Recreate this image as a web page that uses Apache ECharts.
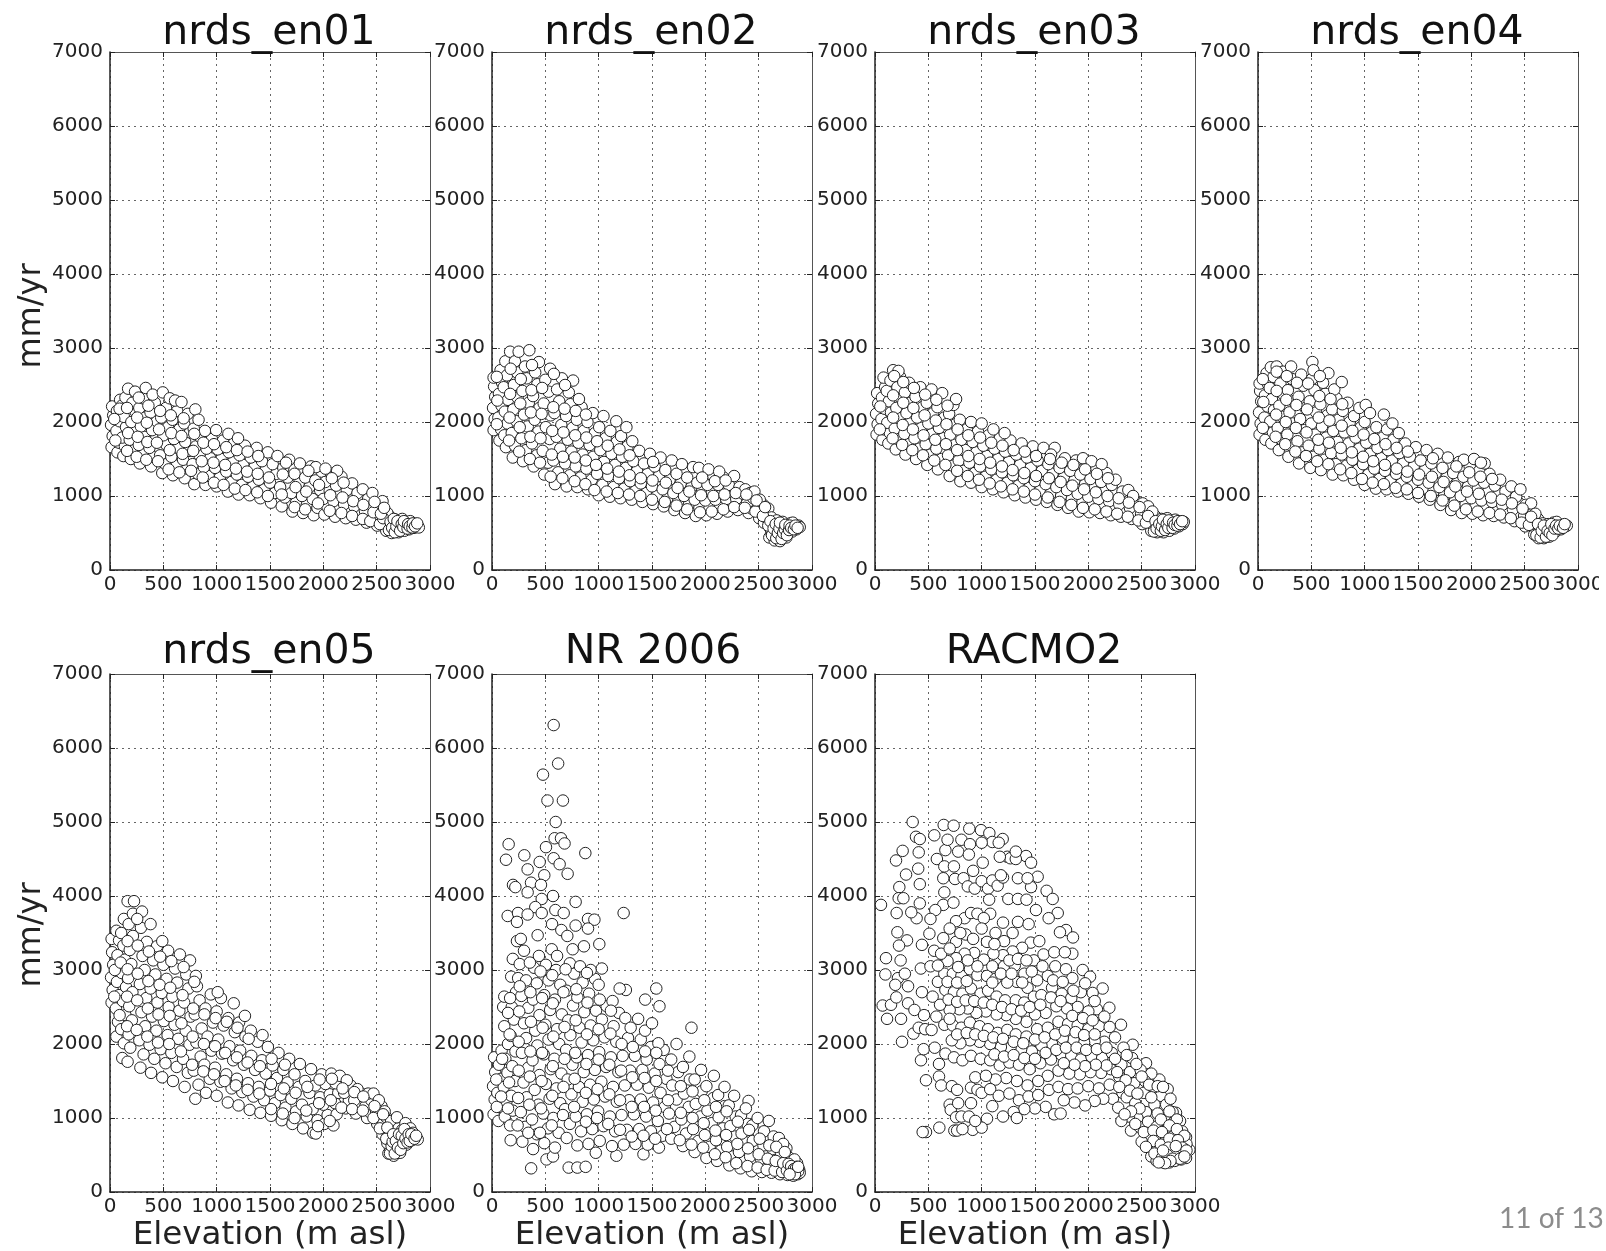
<!DOCTYPE html>
<html>
<head>
<meta charset="utf-8">
<title>nrds</title>
<script src="https://cdn.jsdelivr.net/npm/echarts@6/dist/echarts.min.js"></script>
<style>
html,body{margin:0;padding:0;background:#fff;}
#main{width:1606px;height:1251px;filter:blur(0.5px);}
</style>
</head>
<body>
<div id="main"></div>
<script>
var panelTitles=["nrds_en01","nrds_en02","nrds_en03","nrds_en04","nrds_en05","NR 2006","RACMO2"];
var xTicks=[0,500,1000,1500,2000,2500,3000];
var yTicks=[0,1000,2000,3000,4000,5000,6000,7000];
//点 [海拔,mm/yr]
var en01=[[15,1660],[25,1810],[10,1960],[30,2090],[20,2210],[70,1590],[85,1720],[60,1880],[90,2010],[65,2150],[95,2300],[125,1540],[140,1670],[115,1790],[150,1930],[130,2070],[110,2220],[145,2330],[170,2450],[195,1500],[215,1620],[185,1760],[230,1880],[200,2000],[240,2140],[210,2260],[235,2410],[280,1440],[310,1570],[270,1690],[320,1800],[290,1940],[330,2060],[275,2190],[310,2320],[335,2460],[385,1400],[410,1530],[370,1650],[430,1770],[395,1890],[440,2010],[380,2130],[420,2260],[400,2370],[490,1310],[520,1430],[470,1550],[530,1690],[500,1820],[545,1930],[480,2060],[525,2190],[495,2400],[560,2320],[590,1280],[625,1410],[575,1530],[640,1650],[600,1770],[650,1900],[585,2030],[630,2150],[610,2290],[670,2270],[700,1240],[725,1370],[685,1490],[740,1610],[705,1730],[750,1860],[695,1980],[730,2110],[800,2170],[790,1160],[825,1300],[775,1430],[840,1550],[805,1670],[850,1790],[785,1910],[830,2030],[895,1150],[925,1270],[880,1390],[940,1510],[905,1640],[955,1770],[890,1880],[1000,1130],[1030,1250],[985,1380],[1045,1500],[1010,1630],[1060,1750],[995,1890],[1105,1060],[1140,1190],[1090,1330],[1155,1460],[1115,1590],[1165,1720],[1110,1840],[1205,1020],[1235,1150],[1190,1290],[1250,1420],[1215,1550],[1265,1680],[1200,1780],[1310,1010],[1340,1130],[1295,1260],[1355,1390],[1320,1520],[1375,1650],[1410,970],[1445,1090],[1395,1220],[1460,1350],[1425,1470],[1480,1590],[1510,910],[1545,1040],[1500,1180],[1560,1300],[1525,1430],[1570,1540],[1610,860],[1640,980],[1595,1120],[1665,1250],[1625,1380],[1680,1490],[1710,790],[1745,910],[1700,1040],[1770,1170],[1730,1300],[1780,1440],[1810,770],[1845,880],[1800,1000],[1870,1120],[1830,1250],[1885,1400],[1910,740],[1945,840],[1900,960],[1970,1080],[1925,1210],[1985,1330],[1930,1390],[2010,750],[2040,850],[2000,960],[2060,1070],[2020,1190],[2075,1300],[2020,1370],[2110,720],[2140,820],[2095,930],[2160,1030],[2120,1140],[2170,1260],[2130,1340],[2210,700],[2240,790],[2195,890],[2255,990],[2220,1080],[2270,1170],[2305,680],[2335,770],[2290,860],[2355,950],[2320,1040],[2370,1090],[2405,640],[2435,720],[2390,800],[2450,880],[2420,960],[2460,1040],[2505,600],[2530,670],[2495,740],[2545,810],[2510,880],[2555,930],[2590,530],[2610,600],[2580,660],[2625,720],[2600,770],[2640,500],[2665,560],[2650,620],[2680,680],[2705,510],[2725,570],[2700,630],[2740,690],[2760,530],[2780,590],[2770,650],[2805,550],[2825,610],[2815,660],[2850,570],[2870,620],[2885,600],[2895,575]];
var en01Fill=[[50,1750],[40,2040],[90,2180],[160,1610],[170,1850],[160,2190],[250,1530],[260,1800],[255,2060],[270,2330],[340,1490],[350,1730],[345,1990],[360,2220],[450,1470],[440,1720],[460,1900],[470,2150],[550,1360],[560,1620],[575,1850],[570,2090],[650,1320],[680,1570],[670,1810],[690,2050],[760,1340],[780,1610],[790,1840],[870,1250],[860,1470],[875,1720],[975,1180],[970,1450],[975,1700],[1065,1150],[1080,1420],[1090,1660],[1170,1100],[1180,1370],[1190,1620],[1270,1080],[1285,1330],[1290,1600],[1380,1050],[1385,1300],[1390,1540],[1480,1000],[1490,1250],[1610,1020],[1620,1290],[1650,1450],[1730,850],[1740,1120],[1830,820],[1840,1060],[1860,1340],[1950,900],[1960,1150],[2060,800],[2065,1010],[2080,1240],[2170,770],[2180,980],[2190,1180],[2270,730],[2280,930],[2370,690],[2375,880],[2440,660],[2470,780],[2480,920],[2530,620],[2560,700],[2540,760],[2570,840],[2615,540],[2630,650],[2645,570],[2660,690],[2670,510],[2685,590],[2695,660],[2720,530],[2735,620],[2750,580],[2755,660],[2790,560],[2795,620],[2810,590],[2835,575],[2840,630],[2860,590],[2880,630]];
var en02=[[15,1890],[25,2040],[10,2190],[30,2340],[20,2480],[15,2600],[70,1750],[85,1900],[60,2060],[90,2220],[65,2380],[95,2530],[80,2700],[130,1660],[115,1820],[145,1980],[120,2140],[150,2300],[110,2470],[140,2630],[125,2820],[170,2950],[195,1520],[215,1680],[185,1850],[230,2010],[200,2170],[240,2330],[205,2500],[235,2670],[215,2820],[250,2950],[290,1470],[320,1620],[275,1780],[335,1940],[300,2100],[345,2260],[285,2420],[325,2590],[310,2750],[350,2970],[390,1400],[420,1550],[375,1710],[435,1870],[400,2030],[445,2190],[385,2350],[425,2510],[405,2670],[440,2810],[490,1290],[525,1450],[475,1610],[540,1770],[505,1930],[550,2090],[485,2250],[530,2410],[500,2570],[545,2720],[590,1160],[620,1320],[575,1480],[640,1640],[605,1800],[650,1960],[585,2120],[630,2280],[610,2440],[655,2590],[700,1130],[730,1280],[685,1440],[745,1600],[710,1760],[755,1920],[695,2080],[735,2240],[720,2400],[760,2560],[800,1120],[830,1250],[785,1400],[850,1560],[810,1720],[860,1880],[795,2030],[840,2200],[815,2310],[900,1090],[935,1220],[885,1370],[950,1530],[915,1690],[965,1850],[895,2000],[945,2120],[1000,1010],[1035,1150],[985,1300],[1050,1460],[1015,1620],[1065,1780],[1005,1930],[1045,2080],[1105,990],[1140,1120],[1090,1270],[1155,1420],[1120,1570],[1170,1730],[1110,1880],[1165,2010],[1205,970],[1240,1100],[1190,1240],[1255,1380],[1220,1530],[1270,1670],[1210,1810],[1260,1930],[1310,950],[1345,1070],[1295,1200],[1360,1340],[1325,1470],[1380,1610],[1315,1740],[1410,920],[1445,1040],[1395,1170],[1460,1300],[1425,1440],[1480,1570],[1510,890],[1545,1000],[1500,1130],[1565,1270],[1525,1400],[1580,1520],[1610,860],[1645,970],[1600,1090],[1665,1220],[1625,1350],[1685,1480],[1710,810],[1745,920],[1700,1040],[1770,1170],[1730,1300],[1780,1430],[1810,770],[1845,880],[1800,1000],[1870,1120],[1830,1250],[1885,1390],[1910,730],[1945,840],[1900,950],[1970,1060],[1925,1180],[1985,1300],[1940,1380],[2010,740],[2040,840],[2000,940],[2060,1040],[2020,1150],[2075,1260],[2030,1360],[2110,760],[2140,850],[2095,950],[2160,1040],[2120,1150],[2170,1250],[2130,1330],[2210,790],[2240,870],[2195,960],[2255,1050],[2220,1150],[2270,1270],[2305,810],[2335,880],[2290,960],[2355,1030],[2320,1120],[2375,1090],[2405,770],[2435,830],[2390,900],[2450,970],[2420,1040],[2460,1060],[2505,700],[2525,770],[2490,830],[2545,880],[2510,950],[2550,640],[2575,700],[2560,770],[2590,830],[2600,440],[2620,500],[2605,570],[2635,640],[2620,710],[2650,400],[2670,460],[2655,530],[2685,600],[2670,670],[2700,390],[2720,450],[2710,520],[2735,590],[2725,650],[2760,440],[2780,500],[2770,570],[2795,630],[2815,520],[2835,580],[2820,640],[2855,550],[2875,600],[2885,580]];
var en02Fill=[[45,1970],[50,2290],[45,2610],[160,1750],[165,2060],[170,2380],[175,2720],[255,1600],[260,1930],[265,2250],[270,2580],[355,1500],[360,1800],[365,2130],[370,2430],[375,2770],[450,1450],[455,1780],[465,2110],[470,2460],[550,1260],[560,1560],[565,1880],[575,2200],[580,2650],[660,1240],[665,1530],[670,1860],[680,2180],[685,2500],[775,1200],[775,1520],[780,1820],[785,2150],[875,1160],[880,1480],[885,1790],[880,2100],[960,1080],[975,1420],[985,1740],[1075,1060],[1080,1370],[1085,1680],[1180,1040],[1190,1330],[1195,1630],[1285,1020],[1290,1280],[1290,1550],[1390,1000],[1395,1240],[1500,950],[1505,1210],[1510,1460],[1620,920],[1630,1180],[1730,870],[1740,1110],[1830,820],[1850,1060],[1950,780],[1960,1010],[1970,1250],[2060,790],[2075,1000],[2090,1200],[2170,820],[2180,1020],[2190,1210],[2270,850],[2285,1040],[2370,840],[2385,1020],[2470,790],[2480,940],[2540,730],[2560,850],[2590,600],[2610,660],[2625,470],[2640,560],[2660,620],[2665,430],[2680,500],[2695,560],[2700,640],[2715,420],[2730,500],[2745,550],[2750,610],[2765,470],[2785,540],[2790,600],[2805,570],[2830,550],[2845,600],[2865,570]];
var en03=[[15,1830],[25,1970],[10,2110],[30,2250],[20,2390],[70,1760],[85,1900],[60,2040],[90,2180],[65,2330],[95,2470],[80,2600],[125,1710],[140,1850],[115,1990],[150,2130],[130,2280],[110,2420],[145,2560],[170,2700],[195,1630],[215,1770],[185,1910],[230,2050],[200,2190],[240,2330],[210,2470],[235,2610],[220,2690],[285,1560],[315,1700],[275,1840],[325,1980],[295,2120],[335,2260],[280,2400],[320,2530],[385,1500],[415,1640],[370,1780],[435,1920],[395,2060],[445,2200],[380,2340],[425,2470],[490,1420],[520,1560],[475,1700],[535,1840],[500,1980],[545,2120],[485,2260],[530,2440],[590,1360],[625,1500],[575,1640],[640,1780],[600,1920],[650,2060],[585,2200],[630,2390],[700,1270],[730,1410],[685,1550],[745,1690],[705,1830],[755,1970],[695,2110],[735,2230],[760,2310],[800,1200],[830,1340],[785,1480],[850,1620],[810,1760],[860,1900],[795,2030],[900,1180],[935,1310],[885,1450],[950,1590],[915,1730],[965,1870],[900,2000],[1000,1120],[1035,1260],[985,1400],[1050,1540],[1015,1680],[1065,1820],[1000,1980],[1105,1090],[1140,1220],[1090,1360],[1155,1500],[1120,1640],[1170,1780],[1110,1900],[1205,1050],[1240,1180],[1190,1320],[1255,1460],[1220,1600],[1270,1750],[1215,1850],[1310,1010],[1345,1140],[1295,1280],[1360,1420],[1325,1560],[1375,1710],[1410,980],[1445,1110],[1395,1240],[1460,1380],[1425,1520],[1480,1670],[1510,950],[1545,1070],[1500,1200],[1565,1340],[1525,1480],[1580,1650],[1610,920],[1645,1030],[1600,1160],[1665,1300],[1625,1430],[1685,1650],[1650,1560],[1710,880],[1745,1000],[1700,1120],[1770,1250],[1730,1380],[1780,1510],[1810,840],[1845,960],[1800,1080],[1870,1210],[1830,1340],[1885,1480],[1910,790],[1945,910],[1900,1030],[1970,1160],[1925,1290],[1985,1430],[1950,1510],[2010,780],[2040,880],[2000,990],[2060,1110],[2020,1230],[2075,1370],[2030,1470],[2110,770],[2140,860],[2095,960],[2160,1070],[2120,1190],[2170,1310],[2125,1430],[2210,740],[2240,830],[2195,930],[2255,1040],[2220,1150],[2255,1220],[2305,720],[2335,800],[2290,890],[2355,970],[2320,1060],[2375,1080],[2405,690],[2435,770],[2390,840],[2450,920],[2420,1000],[2505,620],[2530,690],[2495,760],[2545,830],[2510,900],[2560,860],[2590,530],[2610,600],[2580,670],[2625,730],[2600,790],[2645,510],[2665,570],[2650,630],[2685,690],[2705,510],[2725,570],[2700,640],[2740,700],[2760,530],[2780,600],[2770,660],[2805,560],[2825,620],[2815,680],[2850,590],[2870,640],[2885,620],[2895,650]];
var en03Fill=[[45,1900],[50,2210],[165,1780],[170,2060],[170,2360],[180,2620],[255,1690],[260,1960],[265,2260],[265,2540],[350,1620],[355,1900],[360,2190],[365,2460],[450,1550],[455,1820],[465,2090],[470,2370],[555,1480],[565,1760],[570,2020],[575,2300],[660,1420],[665,1700],[670,1970],[680,2220],[770,1340],[770,1620],[775,1900],[870,1270],[875,1540],[875,1820],[975,1220],[980,1500],[985,1790],[1075,1170],[1080,1450],[1090,1720],[1180,1130],[1190,1400],[1195,1680],[1290,1090],[1290,1350],[1300,1620],[1395,1060],[1400,1310],[1405,1600],[1500,1020],[1510,1270],[1510,1540],[1620,980],[1630,1240],[1640,1500],[1730,920],[1740,1190],[1750,1450],[1840,880],[1850,1140],[1860,1420],[1950,840],[1960,1090],[1970,1360],[2060,820],[2070,1050],[2080,1300],[2170,790],[2180,1000],[2185,1240],[2270,760],[2285,970],[2370,720],[2380,910],[2470,670],[2480,850],[2540,640],[2560,730],[2615,520],[2630,660],[2640,560],[2665,620],[2680,530],[2690,590],[2700,680],[2720,540],[2735,620],[2750,570],[2755,670],[2790,570],[2795,640],[2810,610],[2835,600],[2840,660],[2860,620],[2880,660]];
var en04=[[15,1830],[25,1980],[10,2130],[30,2280],[20,2420],[15,2520],[70,1760],[85,1910],[60,2060],[90,2210],[65,2360],[95,2510],[80,2660],[125,1710],[140,1860],[115,2010],[150,2160],[130,2310],[110,2460],[145,2610],[120,2740],[175,2750],[195,1620],[215,1770],[185,1920],[230,2070],[200,2220],[240,2370],[210,2520],[235,2680],[285,1530],[315,1680],[275,1830],[325,1980],[295,2130],[335,2280],[280,2430],[320,2580],[310,2750],[385,1440],[415,1590],[370,1740],[435,1890],[395,2040],[445,2190],[380,2340],[425,2490],[405,2640],[490,1380],[520,1530],[475,1680],[535,1830],[500,1980],[545,2130],[485,2280],[530,2430],[505,2580],[510,2810],[520,2700],[590,1350],[625,1490],[575,1640],[640,1790],[600,1940],[650,2090],[585,2240],[630,2380],[610,2530],[660,2660],[700,1290],[730,1430],[685,1580],[745,1730],[705,1880],[755,2030],[695,2170],[735,2320],[715,2440],[785,2540],[800,1280],[830,1410],[785,1560],[850,1710],[810,1860],[860,2000],[795,2150],[840,2260],[900,1220],[935,1350],[885,1490],[950,1640],[915,1790],[965,1930],[900,2080],[950,2190],[1000,1150],[1035,1290],[985,1430],[1050,1570],[1015,1720],[1065,1860],[1000,2000],[1010,2230],[1050,2120],[1105,1100],[1140,1230],[1090,1370],[1155,1510],[1120,1650],[1170,1790],[1110,1930],[1180,2100],[1205,1090],[1240,1210],[1190,1340],[1255,1480],[1220,1620],[1270,1760],[1210,1900],[1260,1980],[1310,1060],[1345,1170],[1295,1300],[1360,1440],[1325,1580],[1380,1710],[1320,1850],[1410,1030],[1445,1140],[1395,1260],[1460,1400],[1425,1530],[1480,1660],[1510,990],[1545,1100],[1500,1220],[1565,1350],[1525,1480],[1580,1620],[1610,950],[1645,1060],[1600,1180],[1665,1310],[1625,1440],[1685,1570],[1710,880],[1745,1000],[1700,1120],[1770,1250],[1730,1380],[1780,1520],[1810,810],[1845,930],[1800,1050],[1870,1180],[1830,1310],[1885,1460],[1910,770],[1945,880],[1900,1000],[1970,1130],[1925,1260],[1985,1400],[1930,1490],[2010,760],[2040,860],[2000,970],[2060,1090],[2020,1210],[2075,1340],[2025,1500],[2110,740],[2140,840],[2095,940],[2160,1060],[2120,1180],[2170,1300],[2125,1440],[2210,730],[2240,820],[2195,920],[2255,1030],[2220,1140],[2270,1220],[2305,710],[2335,790],[2290,880],[2355,970],[2320,1060],[2375,1130],[2405,660],[2435,740],[2390,820],[2450,900],[2420,990],[2460,1090],[2505,590],[2530,660],[2495,730],[2545,800],[2510,880],[2560,900],[2590,480],[2610,550],[2580,620],[2625,690],[2600,760],[2630,430],[2650,490],[2640,560],[2670,630],[2680,430],[2700,490],[2690,560],[2720,620],[2730,450],[2750,510],[2740,580],[2770,640],[2790,520],[2810,590],[2800,650],[2840,550],[2860,610],[2880,590],[2895,600]];
var en04Fill=[[45,1920],[50,2270],[45,2580],[165,1800],[170,2100],[175,2420],[175,2680],[255,1700],[260,2000],[265,2300],[270,2620],[350,1600],[355,1920],[360,2230],[365,2530],[450,1540],[455,1860],[460,2170],[470,2520],[555,1470],[565,1760],[570,2060],[575,2350],[580,2620],[660,1430],[665,1720],[670,2020],[680,2310],[770,1360],[775,1650],[785,1950],[790,2240],[875,1310],[880,1590],[885,1880],[975,1230],[985,1530],[990,1830],[1075,1180],[1080,1470],[1090,1770],[1180,1160],[1190,1420],[1195,1700],[1290,1110],[1300,1370],[1300,1650],[1395,1090],[1400,1330],[1405,1600],[1500,1040],[1510,1290],[1620,1000],[1630,1260],[1640,1510],[1730,940],[1740,1190],[1840,870],[1850,1130],[1860,1400],[1950,820],[1960,1060],[1980,1320],[2060,790],[2070,1030],[2085,1260],[2090,1450],[2170,770],[2185,980],[2195,1230],[2270,750],[2285,950],[2370,700],[2380,900],[2470,640],[2480,830],[2540,610],[2560,720],[2610,470],[2625,620],[2650,440],[2660,530],[2680,600],[2700,450],[2715,530],[2735,500],[2750,620],[2760,470],[2780,560],[2795,600],[2815,560],[2830,600],[2860,570],[2875,620]];
var en05=[[15,2560],[25,2730],[10,2900],[30,3070],[20,3240],[15,3420],[60,2100],[75,2300],[55,2480],[85,2660],[65,2840],[90,3020],[70,3200],[85,3400],[60,3530],[115,1810],[130,2010],[105,2200],[145,2390],[120,2580],[150,2770],[110,2960],[140,3140],[125,3330],[105,3500],[130,3690],[165,1760],[190,1950],[175,2130],[205,2320],[180,2510],[210,2700],[170,2890],[200,3080],[185,3270],[215,3460],[175,3620],[165,3930],[225,3930],[215,3760],[285,1680],[315,1860],[275,2050],[330,2240],[295,2430],[340,2620],[280,2810],[325,3000],[305,3190],[345,3380],[290,3570],[300,3790],[385,1610],[415,1800],[370,1990],[435,2180],[395,2370],[445,2560],[380,2750],[425,2940],[405,3130],[440,3320],[380,3620],[490,1550],[520,1740],[475,1930],[540,2120],[505,2310],[550,2500],[485,2690],[530,2880],[500,3070],[545,3260],[490,3390],[590,1500],[625,1690],[575,1880],[640,2070],[605,2260],[650,2450],[585,2640],[630,2830],[610,3020],[655,3210],[700,1420],[730,1610],[685,1800],[745,1990],[710,2180],[755,2370],[695,2560],[735,2750],[715,2940],[750,3130],[800,1260],[830,1450],[785,1640],[850,1830],[810,2020],[860,2210],[795,2400],[840,2590],[815,2780],[805,2920],[900,1340],[935,1530],[885,1720],[950,1910],[915,2100],[965,2290],[895,2480],[945,2670],[1000,1300],[1035,1490],[985,1680],[1050,1870],[1015,2060],[1065,2250],[1000,2440],[1040,2620],[1010,2700],[1105,1210],[1140,1400],[1090,1590],[1155,1780],[1120,1970],[1170,2160],[1110,2350],[1160,2550],[1205,1170],[1240,1350],[1190,1530],[1255,1720],[1220,1910],[1270,2100],[1210,2290],[1265,2380],[1310,1110],[1345,1290],[1295,1470],[1360,1650],[1325,1840],[1385,2030],[1320,2180],[1410,1070],[1445,1240],[1395,1420],[1460,1600],[1425,1780],[1480,1960],[1430,2120],[1510,1030],[1545,1200],[1500,1370],[1565,1540],[1525,1710],[1580,1880],[1610,970],[1645,1140],[1600,1310],[1665,1480],[1625,1650],[1680,1800],[1710,920],[1745,1090],[1700,1260],[1770,1420],[1730,1590],[1780,1730],[1810,860],[1845,1020],[1800,1180],[1870,1340],[1830,1500],[1885,1660],[1905,800],[1945,970],[1900,1120],[1970,1280],[1925,1440],[1985,1590],[1930,790],[2010,920],[2040,1040],[2000,1180],[2060,1320],[2020,1460],[2075,1600],[2095,900],[2125,1050],[2110,1200],[2140,1340],[2115,1470],[2155,1570],[2210,1130],[2240,1240],[2195,1340],[2255,1440],[2220,1510],[2305,1060],[2335,1150],[2290,1240],[2355,1330],[2320,1390],[2410,1000],[2435,1080],[2395,1160],[2450,1240],[2420,1330],[2470,1330],[2505,920],[2530,1000],[2495,1080],[2545,1160],[2520,1240],[2555,780],[2575,850],[2560,930],[2590,1010],[2575,1090],[2610,520],[2625,590],[2600,660],[2640,730],[2620,800],[2650,880],[2635,960],[2660,490],[2680,560],[2665,630],[2695,700],[2680,780],[2705,860],[2690,1010],[2720,530],[2740,610],[2725,680],[2755,760],[2740,840],[2770,930],[2780,640],[2800,710],[2785,790],[2815,860],[2830,700],[2850,760],[2840,800],[2870,720],[2885,710]];
var en05Fill=[[40,2640],[45,3000],[90,2390],[100,3100],[160,2240],[160,2640],[165,3010],[165,3390],[250,2190],[255,2590],[260,2950],[260,3330],[255,3690],[350,2100],[355,2480],[360,2850],[365,3250],[450,2020],[455,2400],[465,2800],[470,3180],[555,2000],[560,2380],[565,2760],[575,3120],[665,1900],[670,2280],[680,2660],[690,3040],[770,1720],[775,2100],[780,2480],[790,2840],[875,1630],[880,2000],[885,2400],[975,1590],[985,1970],[990,2350],[1075,1500],[1080,1880],[1095,2300],[1180,1440],[1190,1820],[1195,2220],[1290,1380],[1290,1750],[1300,2070],[1400,1330],[1405,1700],[1510,1120],[1510,1460],[1515,1800],[1620,1060],[1630,1400],[1640,1720],[1730,1000],[1740,1340],[1840,1100],[1850,1420],[1950,890],[1960,1200],[1965,1520],[2060,960],[2070,1240],[2080,1530],[2170,1140],[2180,1400],[2270,1120],[2290,1350],[2370,1100],[2375,1290],[2470,1000],[2480,1160],[2530,860],[2560,1050],[2590,720],[2600,870],[2625,520],[2640,620],[2650,680],[2655,780],[2670,520],[2680,690],[2700,600],[2710,780],[2725,570],[2735,760],[2750,660],[2760,850],[2770,720],[2790,670],[2800,780],[2810,690],[2825,780],[2855,720],[2870,760]];
var nr2006=[[578,6310],[620,5790],[478,5640],[520,5290],[665,5290],[597,5000],[587,4780],[647,4780],[680,4710],[506,4660],[156,4700],[131,4490],[303,4550],[447,4460],[578,4510],[634,4430],[875,4580],[334,4360],[490,4280],[709,4300],[197,4150],[219,4120],[366,4180],[459,4150],[334,4050],[572,4000],[466,3960],[784,3920],[406,3850],[594,3810],[1234,3770],[147,3730],[244,3770],[334,3750],[466,3770],[672,3770],[234,3650],[900,3690],[960,3680],[563,3620],[784,3600],[650,3540],[900,3560],[706,3460],[428,3470],[234,3390],[1006,3350],[862,3320],[756,3280],[1540,2750],[1870,2220],[1570,2510],[1436,2600],[1255,2730],[1197,2750],[367,320],[511,440],[572,480],[719,330],[800,330],[878,340],[175,700],[1420,510],[1166,490],[973,530],
[15,1050],[25,1250],[10,1430],[30,1620],[20,1820],[60,960],[75,1150],[50,1340],[85,1530],[65,1720],[90,1910],[120,1020],[135,1220],[110,1420],[145,1610],[125,1800],[150,2000],[115,2240],[105,2500],[115,2640],[170,900],[195,1100],[180,1300],[215,1500],[190,1700],[220,1900],[175,2110],[205,2330],[185,2500],[225,2700],[170,2620],[195,3150],[180,2910],[245,2890],[285,680],[310,880],[270,1080],[325,1280],[295,1480],[340,1680],[280,1880],[320,2080],[300,2280],[340,2490],[275,2650],[320,2860],[260,3080],[300,3260],[385,580],[420,780],[375,980],[435,1180],[400,1380],[445,1580],[380,1780],[425,1980],[405,2180],[445,2390],[385,2600],[420,2820],[395,3030],[440,3190],[490,660],[525,860],[480,1060],[540,1260],[505,1460],[550,1660],[485,1860],[530,2060],[500,2260],[545,2460],[490,2660],[530,2860],[505,3070],[560,3280],[590,600],[625,800],[575,1000],[640,1200],[605,1400],[650,1600],[585,1800],[630,2000],[610,2200],[655,2400],[590,2600],[640,2800],[600,3000],[610,3190],[700,730],[730,920],[685,1120],[745,1320],[710,1520],[755,1720],[695,1920],[735,2120],[715,2320],[760,2520],[700,2720],[770,2950],[730,3090],[800,630],[835,820],[785,1020],[850,1220],[815,1420],[860,1620],[795,1820],[840,2020],[820,2220],[865,2430],[800,2630],[850,2830],[825,3050],[905,650],[940,850],[890,1050],[955,1250],[920,1450],[965,1650],[900,1850],[950,2050],[925,2250],[975,2450],[910,2680],[965,2880],[925,3000],[1030,3020],[1010,690],[1045,890],[995,1090],[1060,1290],[1025,1490],[1070,1690],[1005,1890],[1055,2090],[1030,2330],[1075,2510],[1000,2800],[1125,620],[1155,820],[1105,1020],[1170,1220],[1135,1420],[1185,1620],[1115,1820],[1165,2030],[1140,2240],[1190,2420],[1130,2580],[1235,640],[1265,840],[1215,1040],[1285,1240],[1245,1440],[1295,1640],[1225,1840],[1275,2080],[1250,2350],[1300,2220],[1345,650],[1380,850],[1330,1050],[1395,1250],[1360,1450],[1410,1650],[1340,1840],[1395,2060],[1370,2340],[1435,2180],[1460,640],[1490,820],[1445,1020],[1510,1210],[1470,1410],[1525,1600],[1450,1790],[1490,1960],[1500,2280],[1565,600],[1600,760],[1555,960],[1620,1150],[1580,1340],[1635,1530],[1570,1730],[1610,1920],[1560,2010],[1680,720],[1710,880],[1660,1060],[1730,1250],[1690,1440],[1745,1620],[1680,1790],[1730,2000],[1790,620],[1820,790],[1775,980],[1845,1150],[1800,1330],[1855,1520],[1790,1690],[1850,1830],[1900,540],[1935,690],[1885,850],[1955,1020],[1910,1190],[1965,1360],[1900,1520],[1960,1650],[2010,460],[2040,610],[1995,770],[2060,930],[2020,1100],[2075,1270],[2010,1430],[2080,1570],[2110,420],[2145,560],[2100,700],[2165,860],[2125,1010],[2180,1160],[2120,1310],[2180,1420],[2225,360],[2255,480],[2205,610],[2275,750],[2235,890],[2285,1020],[2220,1170],[2270,1300],[2330,320],[2360,430],[2315,540],[2380,670],[2340,790],[2395,920],[2335,1040],[2405,1230],[2380,1130],[2435,280],[2465,380],[2420,480],[2485,590],[2445,690],[2500,800],[2440,900],[2490,1000],[2530,270],[2560,360],[2520,450],[2580,540],[2545,630],[2595,730],[2550,820],[2595,960],[2620,260],[2645,340],[2610,420],[2665,500],[2630,580],[2680,660],[2640,750],[2690,730],[2700,240],[2725,310],[2690,380],[2745,450],[2710,520],[2760,590],[2730,650],[2770,230],[2790,290],[2760,350],[2810,410],[2780,470],[2825,220],[2845,280],[2815,340],[2860,390],[2835,440],[2865,240],[2880,300],[2855,340],[2885,260]];
var nr2006Fill=[[45,1150],[40,1520],[85,1290],[95,1800],[150,1130],[160,1480],[165,2130],[150,2420],[240,900],[245,1270],[250,1640],[250,2030],[255,2440],[260,2780],[270,3420],[340,800],[350,1180],[355,1560],[360,1900],[365,2300],[360,2700],[355,3100],[450,800],[460,1130],[465,1500],[470,1880],[475,2220],[470,2620],[455,2980],[560,900],[565,1300],[570,1700],[575,2100],[570,2550],[565,2930],[665,1040],[670,1420],[680,1800],[680,2230],[670,2700],[690,3010],[770,1150],[775,1530],[780,1880],[785,2320],[790,2740],[880,950],[880,1340],[885,1730],[890,2130],[895,2560],[890,2960],[985,1000],[990,1390],[1000,1790],[1000,2200],[1010,2600],[1090,920],[1100,1320],[1100,1720],[1110,2140],[1115,2450],[1200,840],[1200,1240],[1210,1640],[1215,2000],[1310,750],[1310,1150],[1315,1550],[1320,1960],[1420,760],[1425,1150],[1430,1540],[1435,1900],[1530,720],[1535,1100],[1540,1500],[1540,1880],[1640,850],[1650,1240],[1650,1640],[1760,700],[1770,1070],[1770,1430],[1870,640],[1880,1000],[1880,1360],[1980,600],[1985,930],[1990,1240],[2090,510],[2095,830],[2100,1150],[2190,470],[2195,770],[2200,1090],[2290,390],[2300,650],[2305,950],[2395,350],[2400,590],[2410,840],[2490,330],[2500,510],[2510,720],[2575,300],[2585,450],[2600,630],[2650,290],[2660,420],[2665,610],[2720,270],[2730,390],[2745,540],[2765,290],[2780,380],[2800,260],[2805,350],[2830,310],[2850,320],[2870,280],[2840,240],[2790,240],[2870,340]];
var racmo2=[[353,5000],[644,4960],[737,4950],[884,4910],[994,4890],[1072,4850],[1197,4770],[384,4800],[556,4820],[56,3880],[103,3160],[97,2940],[72,2520],[150,2530],[113,2340],[244,2340],[253,2030],[197,4480],[259,4610],[291,4290],[228,4120],[222,3970],[266,3970],[203,3770],[478,810],[447,810],[603,870],[744,830],[916,840],[478,1510],[431,1780],[456,1930],[1416,4540],[1463,4450],[1525,4260],[1463,4120],[1609,4070],[1666,3960],[1509,3810],[1713,3770],[1628,3700],[1791,3540],[1734,3510],[1856,3440],[1850,3220],[1947,3000],[2016,2910],[2134,2750],[2197,2490],[2306,2260],[2416,1990],[2541,1740],[2666,1520],[2744,1390],[2822,1070],[2916,740],[2947,570],[2916,460],
[420,4770],[410,4590],[405,4370],[420,4160],[420,3900],[390,3700],[340,3780],[300,3400],[210,3510],[225,3330],[240,3130],[215,2890],[280,2950],[190,2800],[200,2630],[310,2780],[310,2550],[370,2460],[360,2140],[410,2220],[440,3340],[430,3020],[440,2700],[460,2390],[470,2200],[580,4500],[660,4620],[680,4760],[650,4400],[640,4240],[650,4050],[640,3880],[735,3910],[565,3810],[520,3690],[510,3490],[555,3260],[520,3050],[590,2840],[540,2640],[575,2370],[530,2190],[560,1950],[600,1730],[600,1560],[620,1440],[720,1430],[770,1380],[700,1180],[710,1110],[780,1200],[760,1010],[810,1020],[770,830],[820,850],[880,1020],[900,1200],[900,1410],[960,1380],[940,1550],[780,4600],[810,4760],[890,4700],[880,4560],[920,4340],[740,4400],[750,4230],[830,4240],[870,4130],[935,4100],[1010,4450],[1000,4200],[1060,4100],[1100,4210],[1150,4140],[1250,3960],[1340,3960],[1420,3950],[1340,4240],[1430,4240],[1200,4250],[1240,4530],[1270,4510],[1170,4530],[1320,4500],[1320,4600],[1100,4730],[1160,4720],[1000,4720],[1180,4280],[1070,3950],[1080,3760],[840,3700],[900,3770],[960,3760],[1020,3700],[760,3660],[700,3560],[640,3430],[760,3380],[850,3480],[920,3420],[1000,3560],[1050,3380],[1130,3500],[1200,3640],[1210,3390],[1290,3500],[1340,3650],[1440,3620],[1460,3370],[1380,3300],[1290,3250],[1200,3200],[1110,3220],[1020,3140],[930,3230],[840,3220],[760,3160],[680,3120],[620,3220],[650,2950],[730,2950],[810,2920],[890,3010],[960,2930],[1050,2920],[1130,2880],[1210,3050],[1310,3060],[1400,2950],[1490,3130],[1540,3390],[1580,3210],[1680,3240],[1690,3050],[1780,3240],[1790,3010],[1850,2890],[1620,2920],[1520,2860],[1330,2840],[1430,2760],[1240,2830],[660,2730],[740,2700],[820,2680],[900,2750],[990,2680],[1060,2720],[1140,2640],[1220,2590],[1320,2590],[1400,2560],[1490,2640],[1560,2660],[1660,2760],[1750,2680],[1840,2620],[1930,2700],[2040,2690],[2080,2470],[2000,2440],[1900,2500],[1800,2480],[1700,2510],[1600,2420],[1500,2400],[1420,2300],[1320,2340],[1230,2390],[1140,2400],[1040,2440],[950,2420],[870,2480],[790,2470],[700,2460],[650,2260],[730,2250],[810,2220],[890,2290],[980,2240],[1060,2200],[1150,2150],[1240,2190],[1320,2130],[1420,2100],[1520,2200],[1620,2220],[1720,2300],[1810,2270],[1900,2250],[2000,2200],[2100,2240],[2200,2230],[2250,2090],[2150,2030],[2060,2040],[1960,2020],[1860,2060],[1760,2080],[1660,2000],[1560,1980],[1470,1900],[1370,1930],[1270,1950],[1180,1960],[1080,2000],[980,2030],[890,2050],[800,2010],[720,2050],[660,1870],[740,1820],[820,1780],[900,1840],[990,1800],[1080,1780],[1170,1710],[1260,1750],[1350,1720],[1450,1660],[1550,1740],[1650,1790],[1750,1850],[1840,1840],[1930,1790],[2030,1830],[2130,1810],[2220,1880],[2330,1950],[2410,1810],[2310,1720],[2210,1660],[2120,1610],[2020,1620],[1920,1590],[1820,1600],[1720,1640],[1620,1570],[1530,1500],[1430,1440],[1330,1500],[1230,1540],[1130,1520],[1040,1570],[1000,1340],[1080,1390],[1160,1300],[1260,1330],[1350,1240],[1440,1290],[1530,1310],[1630,1380],[1720,1420],[1810,1390],[1900,1400],[2000,1430],[2100,1400],[2200,1450],[2290,1560],[2390,1620],[2490,1650],[2590,1600],[2530,1500],[2430,1470],[2320,1340],[2230,1260],[2140,1260],[2060,1230],[1970,1170],[1870,1210],[1770,1240],[1680,1050],[1740,1060],[1600,1150],[1500,1130],[1400,1120],[1300,1080],[1200,1020],[1100,1160],[1050,990],[1000,870],[940,960],[1330,1000],[2280,1140],[2360,1280],[2440,1200],[2520,1340],[2610,1420],[2680,1300],[2620,1180],[2540,1080],[2460,1000],[2380,1020],[2310,960],[2400,830],[2480,880],[2560,950],[2650,1060],[2730,1180],[2770,1260],[2790,1080],[2720,970],[2640,880],[2570,770],[2500,680],[2580,600],[2650,740],[2730,830],[2800,940],[2860,960],[2880,820],[2800,760],[2720,680],[2650,590],[2590,480],[2660,440],[2720,540],[2790,630],[2860,670],[2920,650],[2840,560],[2770,480],[2700,400],[2640,420],[2760,400],[2830,440],[2890,520],[2810,420],[2870,440],[2730,460],[2690,520],[2780,550],[2850,500],[2900,580]];
var racmo2Fill=[[590,3060],[680,2840],[770,2830],[860,2850],[610,2530],[690,2600],[770,2570],[850,2590],[930,2580],[1020,2560],[1100,2530],[1190,2500],[1280,2470],[1370,2450],[1450,2500],[1550,2530],[1650,2630],[1740,2580],[1850,2380],[1950,2350],[2040,2320],[2150,2370],[1100,2830],[1180,2950],[1280,2950],[1380,2830],[1470,2980],[1570,3050],[1670,2860],[1760,2840],[1860,2720],[1970,2820],[2060,2580],[1100,3050],[960,3050],[870,3130],[780,3040],[700,3290],[800,3500],[1120,3350],[1260,3130],[1340,3150],[1420,3130],[700,2340],[770,2130],[860,2150],[940,2130],[1020,2110],[1110,2090],[1200,2070],[1300,2030],[1390,2010],[1500,2060],[1590,2090],[1690,2130],[1780,2180],[1880,2160],[1960,2120],[2060,2130],[1120,1860],[1210,1830],[1300,1850],[1400,1810],[1500,1800],[1600,1880],[1700,1920],[1790,1950],[1890,1950],[1980,1920],[2080,1930],[2170,1950],[2250,1800],[2170,1710],[2070,1720],[1970,1700],[1870,1720],[1770,1740],[2360,1850],[2270,1620],[2450,1730],[2500,1560],[2350,1510],[2290,1420],[2390,1370],[2460,1330],[2570,1450],[2650,1430],[2700,1420],[2590,1280],[2480,1130],[2400,1090],[2340,1050],[2440,920],[2520,810],[2610,830],[2680,980],[2760,1090],[2830,980],[2760,900],[2690,810],[2610,690],[2540,610],[2680,640],[2760,720],[2830,850],[2900,760],[2840,700],[2620,520],[2690,460],[2750,600],[2810,510],[2880,600],[2820,620],[2920,560],[2740,500],[2790,450],[2860,450],[2900,480],[2700,560],[2770,420],[2720,390],[2660,400]];
var panelData=[en01.concat(en01Fill),en02.concat(en02Fill),en03.concat(en03Fill),en04.concat(en04Fill),en05.concat(en05Fill),nr2006.concat(nr2006Fill),racmo2.concat(racmo2Fill)];
var panelLeft=[110,492,875,1258,110,492,875];
var panelTop=[52,52,52,52,674,674,674];
var titleTop=[8,8,8,8,627,627,627];
var titleNudge=[0,0,0,0,0,2,0];
var namePad=[10,0,0,0,4,0,0];
var panelW=320,panelH=518;

(function(){
    var chart=echarts.init(document.getElementById('main'));
    var font='DejaVu Sans';
    var option={animation:false,backgroundColor:'#fff',title:[],grid:[],xAxis:[],yAxis:[],series:[]};
    function gridStyle(){return {show:true,lineStyle:{color:'#666',width:1,type:[2,4]}};}
    function plainLabel(v){return String(v);}
    for(var i=0;i<panelTitles.length;i++){
        var bottomRow=i>=4,firstCol=i==0||i==4;
        option.title.push({text:panelTitles[i],left:panelLeft[i]+panelW/2-6+titleNudge[i],top:titleTop[i],
            textStyle:{fontFamily:font,fontSize:41,fontWeight:'normal',color:'#111'},
            textAlign:'center'});
        option.grid.push({left:panelLeft[i],top:panelTop[i],width:panelW,height:panelH,show:false,outerBoundsMode:'none'});
        // 下面和左边是带刻度的主轴
        option.xAxis.push({type:'value',gridIndex:i,min:0,max:xTicks[xTicks.length-1],interval:500,position:'bottom',
            name:bottomRow?'Elevation (m asl)':'',nameLocation:'middle',nameGap:27,
            nameTextStyle:{fontFamily:font,fontSize:32.5,color:'#222'},
            axisLine:{show:true,onZero:false,lineStyle:{color:'#222',width:1.5}},
            axisTick:{show:true,inside:true,length:5,lineStyle:{color:'#222'}},
            axisLabel:{show:true,fontFamily:font,fontSize:20,color:'#222',margin:5,hideOverlap:false,showMinLabel:true,showMaxLabel:true,formatter:plainLabel},
            splitLine:gridStyle()});
        option.yAxis.push({type:'value',gridIndex:i,min:0,max:yTicks[yTicks.length-1],interval:1000,position:'left',
            name:firstCol?'mm/yr':'',nameLocation:'middle',nameGap:62,
            nameTextStyle:{fontFamily:font,fontSize:32,color:'#222',padding:[0,namePad[i],0,0]},
            axisLine:{show:true,onZero:false,lineStyle:{color:'#222',width:1.5}},
            axisTick:{show:true,inside:true,length:5,lineStyle:{color:'#222'}},
            axisLabel:{show:true,fontFamily:font,fontSize:20,color:'#222',margin:7,hideOverlap:false,showMinLabel:true,showMaxLabel:true,formatter:plainLabel},
            splitLine:gridStyle()});
        // 上面和右边只有线和刻度
        option.xAxis.push({type:'value',gridIndex:i,min:0,max:3000,interval:500,position:'top',
            axisLine:{show:true,onZero:false,lineStyle:{color:'#555',width:1}},
            axisTick:{show:true,inside:true,length:5,lineStyle:{color:'#222'}},
            axisLabel:{show:false},splitLine:{show:false}});
        option.yAxis.push({type:'value',gridIndex:i,min:0,max:7000,interval:1000,position:'right',
            axisLine:{show:true,onZero:false,lineStyle:{color:'#555',width:1}},
            axisTick:{show:true,inside:true,length:5,lineStyle:{color:'#222'}},
            axisLabel:{show:false},splitLine:{show:false}});
        option.series.push({type:'scatter',xAxisIndex:i*2,yAxisIndex:i*2,data:panelData[i],symbol:'circle',symbolSize:11.5,
            clip:false,large:false,progressive:0,
            itemStyle:{color:'#fff',opacity:1,borderColor:'#222',borderWidth:1},z:3});
    }
    option.graphic=[
        {type:'rect',left:1599,top:555,shape:{width:7,height:45},style:{fill:'#fff'},z:100},
        {type:'text',left:1499,top:1205,style:{text:'11 of 13',fontFamily:'Lato',fontSize:28,fill:'#8c8c8c'},z:100}
    ];
    chart.setOption(option);
})();
</script>
</body>
</html>
